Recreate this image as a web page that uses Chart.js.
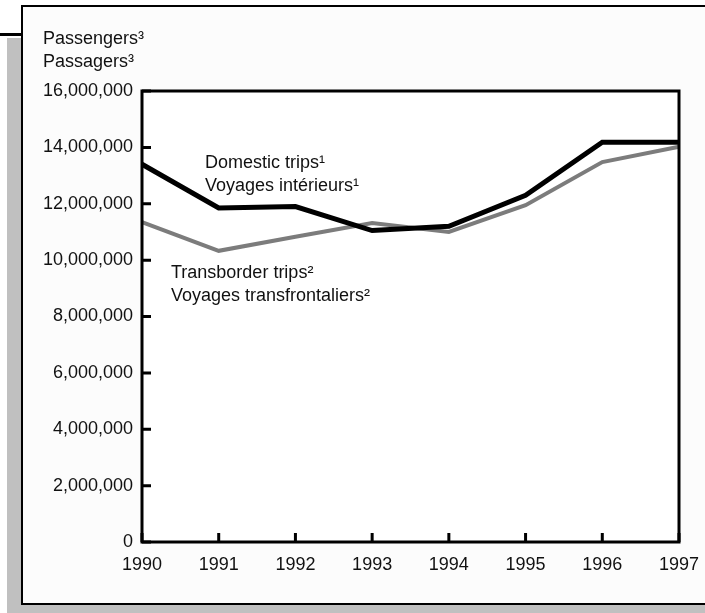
<!DOCTYPE html>
<html>
<head>
<meta charset="utf-8">
<script src="https://cdn.jsdelivr.net/npm/chart.js@4"></script>
<style>
  body { margin: 0; background: #fff; overflow: hidden; }
  #shadow { position: absolute; left: 7px; top: 38px; width: 800px; height: 600px; background: #c0c0c0; }
  #rule { position: absolute; left: 0; top: 33px; width: 24px; height: 3px; background: #000; }
  #frame { position: absolute; left: 21px; top: 5px; width: 800px; height: 596px; border: 2px solid #000; background: #fcfcfc; }
  #wrap { position: absolute; left: 0; top: 0; width: 705px; height: 613px; }
</style>
</head>
<body>
<div id="shadow"></div>
<div id="rule"></div>
<div id="frame"></div>
<div id="wrap"><canvas id="myChart"></canvas></div>
<script>
  const years = ['1990', '1991', '1992', '1993', '1994', '1995', '1996', '1997'];
  const domestic = [13400000, 11850000, 11900000, 11050000, 11200000, 12300000, 14180000, 14180000];
  const transborder = [11350000, 10330000, 10830000, 11320000, 11000000, 11950000, 13480000, 14020000];
  const yTicks = [0, 2000000, 4000000, 6000000, 8000000, 10000000, 12000000, 14000000, 16000000];

  const font = { family: '"Liberation Sans", Arial, sans-serif', size: 18 };
  Chart.defaults.font = font;
  Chart.defaults.color = '#111';

  // frame round the plot, inward ticks and the text labels
  const extras = {
    id: 'extras',
    beforeDatasetsDraw(chart) {
      const { ctx, chartArea: a } = chart;
      ctx.save();
      ctx.fillStyle = '#fff';
      ctx.fillRect(a.left, a.top, a.right - a.left, a.bottom - a.top);
      ctx.restore();
    },
    afterDatasetsDraw(chart) {
      const { ctx, chartArea: a, scales } = chart;
      ctx.save();
      ctx.strokeStyle = '#000';
      ctx.lineWidth = 3;
      ctx.strokeRect(a.left, a.top, a.right - a.left, a.bottom - a.top);
      ctx.beginPath();
      yTicks.forEach(v => {
        const y = scales.y.getPixelForValue(v);
        ctx.moveTo(a.left, y);
        ctx.lineTo(a.left + 9, y);
      });
      years.forEach((yr, i) => {
        const x = scales.x.getPixelForValue(i);
        ctx.moveTo(x, a.bottom);
        ctx.lineTo(x, a.bottom - 9);
      });
      ctx.stroke();

      ctx.fillStyle = '#111';
      ctx.font = '18px "Liberation Sans", Arial, sans-serif';
      ctx.textAlign = 'left';
      ctx.textBaseline = 'alphabetic';
      ctx.fillText('Passengers³', 43, 44);
      ctx.fillText('Passagers³', 43, 67);
      ctx.fillText('Domestic trips¹', 205, 168);
      ctx.fillText('Voyages intérieurs¹', 205, 191);
      ctx.fillText('Transborder trips²', 171, 278);
      ctx.fillText('Voyages transfrontaliers²', 171, 301);
      ctx.restore();
    }
  };

  new Chart(document.getElementById('myChart'), {
    type: 'line',
    data: {
      labels: years,
      datasets: [{
        label: 'Domestic trips',
        data: domestic,
        borderColor: '#000',
        borderWidth: 5,
        pointRadius: 0,
        tension: 0
      }, {
        label: 'Transborder trips',
        data: transborder,
        borderColor: '#7c7c7c',
        borderWidth: 4,
        pointRadius: 0,
        tension: 0
      }]
    },
    options: {
      responsive: true,
      maintainAspectRatio: false,
      animation: false,
      layout: { padding: { left: 0, top: 91, right: 26, bottom: 0 } },
      plugins: { legend: { display: false }, tooltip: { enabled: false } },
      scales: {
        x: {
          offset: false,
          grid: { display: false, drawTicks: false },
          border: { display: false },
          ticks: { padding: 12, maxRotation: 0, autoSkip: false },
          afterFit(scale) {
            scale.height = 71;
            scale.paddingLeft = 0;
            scale.paddingRight = 0;
          }
        },
        y: {
          min: 0,
          max: 16000000,
          grid: { display: false, drawTicks: false },
          border: { display: false },
          ticks: {
            stepSize: 2000000,
            padding: 9,
            callback: v => v.toLocaleString('en-US')
          },
          afterFit(scale) { scale.width = 142; }
        }
      }
    },
    plugins: [extras]
  });
</script>
</body>
</html>
